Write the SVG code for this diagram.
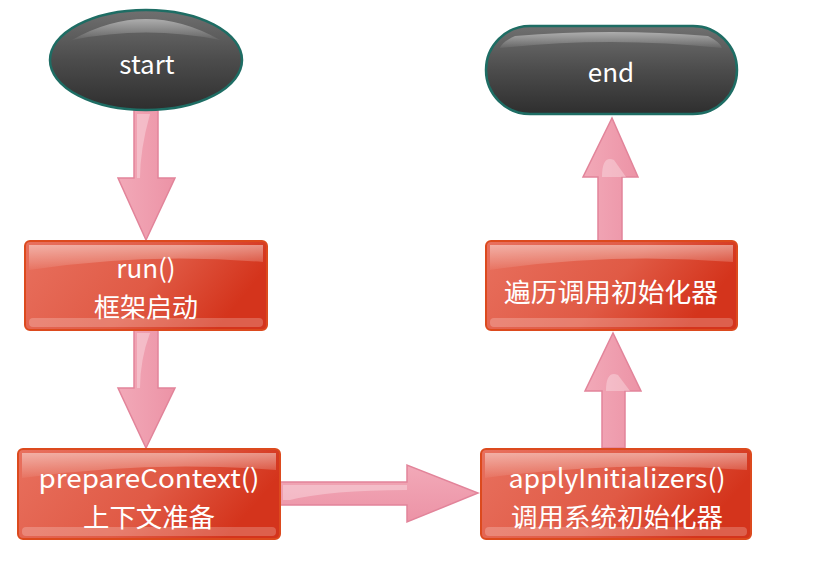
<svg xmlns="http://www.w3.org/2000/svg" width="823" height="578" viewBox="0 0 823 578">
<defs>
<linearGradient id="boxG" x1="0" y1="0" x2="1" y2="0.3">
<stop offset="0" stop-color="#e8705e"/>
<stop offset="0.6" stop-color="#e05a45"/>
<stop offset="1" stop-color="#d4341c"/>
</linearGradient>
<linearGradient id="gloss" x1="0" y1="0" x2="0" y2="1">
<stop offset="0" stop-color="#ffffff" stop-opacity="0.45"/>
<stop offset="1" stop-color="#ffffff" stop-opacity="0.05"/>
</linearGradient>
<linearGradient id="darkG" x1="0" y1="0" x2="0" y2="1">
<stop offset="0" stop-color="#707070"/>
<stop offset="0.5" stop-color="#4c4c4c"/>
<stop offset="1" stop-color="#2e2e2e"/>
</linearGradient>
<linearGradient id="arrV" x1="0" y1="0" x2="1" y2="0">
<stop offset="0" stop-color="#f2a9b8"/>
<stop offset="1" stop-color="#ec93a6"/>
</linearGradient>
<linearGradient id="arrH" x1="0" y1="0" x2="0" y2="1">
<stop offset="0" stop-color="#f2a9b8"/>
<stop offset="1" stop-color="#ec93a6"/>
</linearGradient>
</defs>
<style>
.box{fill:url(#boxG);stroke:#dc4a1e;stroke-width:2}
.gl{fill:url(#gloss)}
.term{fill:url(#darkG);stroke:#1e6d64;stroke-width:2.5}
.arr{stroke:#e2849a;stroke-width:1.5;stroke-linejoin:miter}
.hl{fill:#ffffff;opacity:0.3}
text{font-family:"Noto Sans CJK SC","Noto Sans",sans-serif;fill:#ffffff;font-size:26px;text-anchor:middle;dominant-baseline:central}
</style>
<g id="connectors">
<path class="arr" fill="url(#arrV)" d="M134,110 L158,110 L158,178 L175,178 L146,240 L118,178 L134,178 Z"/>
<path class="hl" d="M137,114 L150,114 Q140,150 140,178 L137,178 Z"/>
<path class="arr" fill="url(#arrV)" d="M134,330 L158,330 L158,388 L175,388 L146,448 L118,388 L134,388 Z"/>
<path class="hl" d="M137,333 L150,333 Q140,360 140,388 L137,388 Z"/>
<path class="arr" fill="url(#arrH)" d="M280,482 L407,482 L407,465 L478,493 L407,522 L407,505 L280,505 Z"/>
<path class="hl" d="M283,485 L407,485 L407,490 Q330,490 290,500 L283,500 Z"/>
<path class="arr" fill="url(#arrV)" d="M602,448 L625,448 L625,391 L641,391 L613,333 L585,391 L602,391 Z"/>
<path class="hl" d="M606,391 Q606,370 618,375 L630,391 Z"/>
<path class="arr" fill="url(#arrV)" d="M598,241 L622,241 L622,177 L638,177 L612,118 L583,177 L598,177 Z"/>
<path class="hl" d="M602,177 Q602,155 614,160 L626,177 Z"/>
</g>
<g id="start">
<ellipse class="term" cx="146" cy="60" rx="96" ry="50"/>
<path class="gl" d="M72,40 Q146,-2 220,40 Q146,25 72,40 Z"/>
<text x="147" y="62">start</text>
</g>
<g id="run">
<rect class="box" x="25" y="241" width="242" height="89" rx="5"/>
<path class="gl" d="M29,245 L263,245 L263,262 Q146,252 29,270 Z"/>
<rect x="29" y="318" width="234" height="9" rx="4" fill="#ffffff" opacity="0.22"/>
<text x="146" y="266">run()</text>
<text x="146" y="305" textLength="104" lengthAdjust="spacingAndGlyphs">框架启动</text>
</g>
<g id="prepareContext">
<rect class="box" x="18" y="449" width="262" height="90" rx="5"/>
<path class="gl" d="M22,453 L276,453 L276,470 Q149,460 22,478 Z"/>
<rect x="22" y="527" width="254" height="9" rx="4" fill="#ffffff" opacity="0.22"/>
<text x="149" y="476" textLength="221" lengthAdjust="spacingAndGlyphs">prepareContext()</text>
<text x="149" y="515" textLength="132" lengthAdjust="spacingAndGlyphs">上下文准备</text>
</g>
<g id="applyInitializers">
<rect class="box" x="481" y="449" width="270" height="90" rx="5"/>
<path class="gl" d="M485,453 L747,453 L747,470 Q616,460 485,478 Z"/>
<rect x="485" y="527" width="262" height="9" rx="4" fill="#ffffff" opacity="0.22"/>
<text x="617" y="476" textLength="217" lengthAdjust="spacingAndGlyphs">applyInitializers()</text>
<text x="617" y="515" textLength="212" lengthAdjust="spacingAndGlyphs">调用系统初始化器</text>
</g>
<g id="iterate">
<rect class="box" x="486" y="241" width="251" height="89" rx="5"/>
<path class="gl" d="M490,245 L733,245 L733,262 Q611,252 490,270 Z"/>
<rect x="490" y="318" width="243" height="9" rx="4" fill="#ffffff" opacity="0.22"/>
<text x="611" y="290" textLength="214" lengthAdjust="spacingAndGlyphs">遍历调用初始化器</text>
</g>
<g id="end">
<rect class="term" x="486" y="26" width="251" height="88" rx="44"/>
<path class="gl" d="M515,36 Q611,28 708,36 Q720,42 722,48 Q611,36 500,48 Q502,42 515,36 Z"/>
<text x="611" y="70">end</text>
</g>
</svg>
